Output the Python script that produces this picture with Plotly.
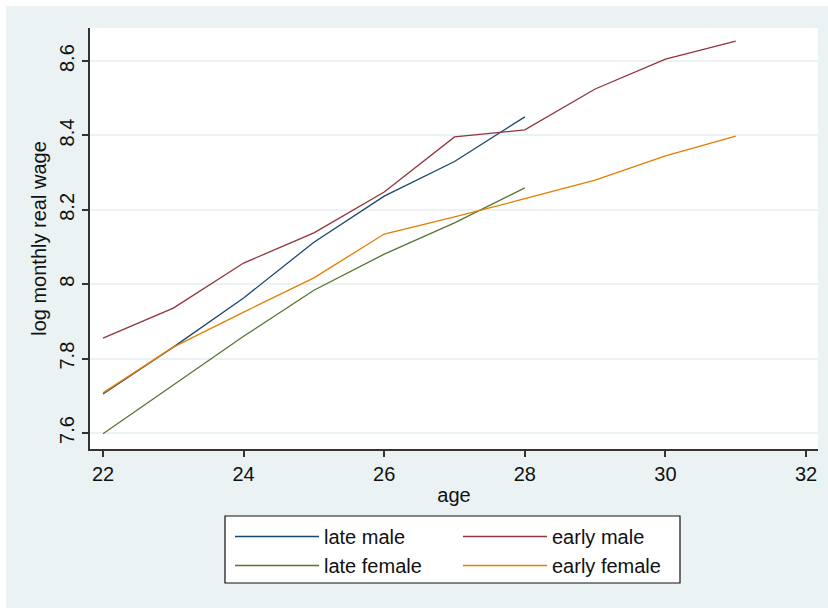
import plotly.graph_objects as go

ages_late = [22, 23, 24, 25, 26, 27, 28]
ages_early = [22, 23, 24, 25, 26, 27, 28, 29, 30, 31]
late_male = [7.705, 7.831, 7.963, 8.113, 8.237, 8.330, 8.450]
early_male = [7.855, 7.936, 8.057, 8.138, 8.248, 8.396, 8.415, 8.525, 8.605, 8.654]
late_female = [7.598, 7.730, 7.860, 7.984, 8.081, 8.165, 8.259]
early_female = [7.708, 7.831, 7.925, 8.017, 8.135, 8.181, 8.230, 8.280, 8.345, 8.398]

x_ticks = [22, 24, 26, 28, 30, 32]
y_ticks = [7.6, 7.8, 8.0, 8.2, 8.4, 8.6]
y_tick_text = ["7.6", "7.8", "8", "8.2", "8.4", "8.6"]

NAVY = "#1a476f"
MAROON = "#90353b"
GREEN = "#55752f"
ORANGE = "#e37e00"
BG = "#EAF2F3"
FONT = "Liberation Sans, Arial, sans-serif"
FS = 20

W, H = 828, 608
L, R, T, B = 90, 10, 28, 159
pw, ph = W - L - R, H - T - B

def px_x(p):
    return (p - L) / pw

def px_y(p):
    return (H - B - p) / ph

fig = go.Figure()
fig.add_trace(go.Scatter(x=ages_late, y=late_male, mode="lines", name="late male",
                         line=dict(color=NAVY, width=1.3), legend="legend"))
fig.add_trace(go.Scatter(x=ages_late, y=late_female, mode="lines", name="late female",
                         line=dict(color=GREEN, width=1.3), legend="legend"))
fig.add_trace(go.Scatter(x=ages_early, y=early_male, mode="lines", name="early male",
                         line=dict(color=MAROON, width=1.3), legend="legend2"))
fig.add_trace(go.Scatter(x=ages_early, y=early_female, mode="lines", name="early female",
                         line=dict(color=ORANGE, width=1.3), legend="legend2"))

legend_common = dict(
    bgcolor="rgba(0,0,0,0)", borderwidth=0, itemwidth=84,
    font=dict(family=FONT, size=FS, color="#111"),
    xanchor="left", yanchor="top", orientation="v", tracegroupgap=0,
)

fig.update_layout(
    width=W, height=H,
    margin=dict(l=L, r=R, t=T, b=B),
    paper_bgcolor=BG, plot_bgcolor="white",
    font=dict(family=FONT, size=FS, color="#111"),
    showlegend=True,
    legend=dict(x=px_x(230), y=px_y(517), **legend_common),
    legend2=dict(x=px_x(458), y=px_y(517), **legend_common),
    xaxis=dict(
        range=[21.815, 32.17], tickvals=x_ticks, showgrid=False, zeroline=False,
        showline=True, linecolor="#333", linewidth=1.5, ticks="outside", ticklen=6,
        tickcolor="#333", tickwidth=1.5, tickfont=dict(size=FS),
        title=dict(text="age", font=dict(size=FS), standoff=4),
    ),
    yaxis=dict(
        range=[7.557, 8.689], tickvals=y_ticks, ticktext=y_tick_text, tickangle=-90,
        showgrid=True, gridcolor=BG, gridwidth=1.5, zeroline=False,
        showline=True, linecolor="#333", linewidth=1.5, ticks="outside", ticklen=6,
        tickcolor="#333", tickwidth=1.5, tickfont=dict(size=FS),
        title=dict(text="log monthly real wage", font=dict(size=FS), standoff=4),
    ),
    shapes=[
        dict(type="rect", xref="paper", yref="paper", x0=px_x(0), x1=px_x(W),
             y0=px_y(0), y1=px_y(6), fillcolor="white", line=dict(width=0), layer="below"),
        dict(type="rect", xref="paper", yref="paper", x0=px_x(0), x1=px_x(6),
             y0=px_y(0), y1=px_y(H), fillcolor="white", line=dict(width=0), layer="below"),
        dict(type="rect", xref="paper", yref="paper", x0=px_x(225), x1=px_x(680),
             y0=px_y(516), y1=px_y(583), fillcolor="white",
             line=dict(color="#111", width=1.2), layer="below"),
    ],
)

fig.write_html("out.html")
